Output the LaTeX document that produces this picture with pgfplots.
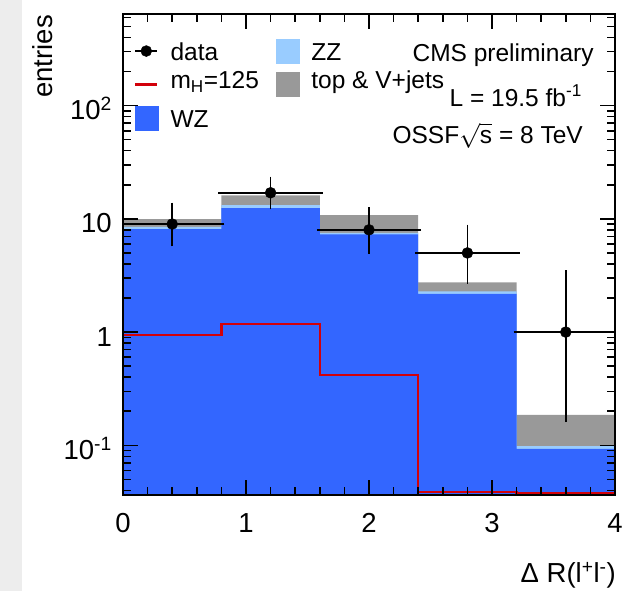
\documentclass[border=0pt]{standalone}
\usepackage{fontspec}
\setmainfont{Liberation Sans}
\usepackage{pgfplots}
\pgfplotsset{compat=1.18}
\definecolor{wzblue}{RGB}{51,102,255}
\definecolor{zzblue}{RGB}{153,204,255}
\definecolor{topgray}{RGB}{153,153,153}
\definecolor{hred}{RGB}{210,0,10}
\newcommand\legfont{\fontsize{24.5}{29}\selectfont}
\newcommand\tickfont{\fontsize{27.5}{33}\selectfont}
\begin{document}
\begin{tikzpicture}
\useasboundingbox (-123pt,-96pt) rectangle (499pt,495pt);
\fill[black!7] (-123pt,-96pt) rectangle (-101pt,495pt);
\begin{axis}[
  at={(0pt,0pt)}, anchor=south west,
  scale only axis, width=492pt, height=481pt,
  ymode=log, log origin y=infty, xmin=0, xmax=4, ymin=0.0364, ymax=645,
  axis on top,
  axis line style={line width=2.5pt},
  every tick/.style={black, line width=1.5pt},
  major tick length=15pt, minor tick length=8pt,
  /pgf/number format/assume math mode=true,
  xtick={0,1,2,3,4}, xticklabels={0,1,2,3,4}, minor x tick num=4,
  ytick={0.1,1,10,100},
  yticklabels={10\textsuperscript{-1},1,10,10\textsuperscript{2}},
  minor ytick={0.04,0.05,0.06,0.07,0.08,0.09,0.2,0.3,0.4,0.5,0.6,0.7,0.8,0.9,2,3,4,5,6,7,8,9,20,30,40,50,60,70,80,90,200,300,400,500,600},
  yticklabel style={anchor=base east, inner sep=0pt, xshift=-11pt, yshift=-14pt, font=\tickfont},
  xticklabel style={anchor=base, inner sep=0pt, yshift=-38pt, font=\tickfont},
  xlabel={Δ R(l\textsuperscript{+}l\textsuperscript{-})},
  xlabel style={at={(axis description cs:1,0)}, anchor=base east, yshift=-88pt, xshift=1pt, inner sep=0pt, font=\tickfont},
  ylabel={entries},
  ylabel style={at={(axis description cs:-0.1443,0.998)}, anchor=base east, inner sep=0pt, font=\tickfont},
  legend columns=2,
  legend style={at={(axis description cs:0.0224,0.950)}, anchor=north west, draw=none, fill=none,
    inner sep=0pt, outer sep=0pt, row sep=6.5pt, font=\legfont,
    nodes={inner sep=0pt, text height=22pt, text depth=5pt},
    cells={anchor=base west},
    /tikz/every odd column/.style={column sep=12pt},
    /tikz/every even column/.style={column sep=17pt}},
]
% total (top & V+jets on top)
\addplot[const plot mark left, fill=topgray, draw=none, forget plot]
  coordinates {(0,9.96) (0.8,16.1) (1.6,10.8) (2.4,2.75) (3.2,0.186) (4,0.186)} \closedcycle;
% WZ + ZZ
\addplot[const plot mark left, fill=zzblue, draw=none, forget plot]
  coordinates {(0,8.51) (0.8,13.2) (1.6,7.54) (2.4,2.29) (3.2,0.0984) (4,0.0984)} \closedcycle;
% WZ
\addplot[const plot mark left, fill=wzblue, draw=none, forget plot]
  coordinates {(0,8.13) (0.8,12.45) (1.6,7.30) (2.4,2.18) (3.2,0.0931) (4,0.0931)} \closedcycle;
% m_H = 125
\addplot[const plot mark left, hred, line width=2.5pt, forget plot]
  coordinates {(0,0.01) (0,0.946) (0.8,1.18) (1.6,0.417) (2.4,0.0386) (3.2,0.0374) (4,0.0374)};
% data
\addplot[only marks, mark=*, mark size=5.5pt, black, forget plot,
  error bars/.cd, x dir=both, x explicit, y dir=both, y explicit,
  error bar style={line width=1.5pt, black},
  error mark options={line width=1.5pt, mark size=3pt}]
  coordinates {
    (0.4,9) += (0.4,4.11) -= (0.4,2.94)
    (1.2,17) += (0.4,5.20) -= (0.4,4.08)
    (2.0,8) += (0.4,3.94) -= (0.4,2.77)
    (2.8,5) += (0.4,3.38) -= (0.4,2.16)
    (3.6,1) += (0.4,2.30) -= (0.4,0.83)
  };
\addlegendimage{legend image code/.code={\draw[black, line width=1.5pt] (0pt,9pt) -- (22pt,9pt); \fill[black] (11pt,9pt) circle (5.5pt);}}
\addlegendentry{data}
\addlegendimage{legend image code/.code={\fill[zzblue] (0pt,-3pt) rectangle (23pt,21pt);}}
\addlegendentry{ZZ}
\addlegendimage{legend image code/.code={\draw[hred, line width=2.5pt] (0pt,9pt) -- (22pt,9pt);}}
\addlegendentry{\raisebox{5pt}{m\textsubscript{H}=125}}
\addlegendimage{legend image code/.code={\fill[topgray] (0pt,-3pt) rectangle (23pt,21pt);}}
\addlegendentry{\raisebox{5pt}{top \& V+jets}}
\addlegendimage{legend image code/.code={\fill[wzblue] (0pt,-3pt) rectangle (23pt,21pt);}}
\addlegendentry{WZ}
\node[anchor=base east, inner sep=0pt, font=\legfont] at (axis description cs:0.957,0.9008) {CMS preliminary};
\node[anchor=base east, inner sep=0pt, font=\legfont] at (axis description cs:0.933,0.8087) {L = 19.5 fb\textsuperscript{-1}};
\node[anchor=base east, inner sep=0pt, font=\legfont] at (axis description cs:0.935,0.7312) {OSSF$\sqrt{\mbox{s}}$ = 8 TeV};
\end{axis}
\end{tikzpicture}
\end{document}
